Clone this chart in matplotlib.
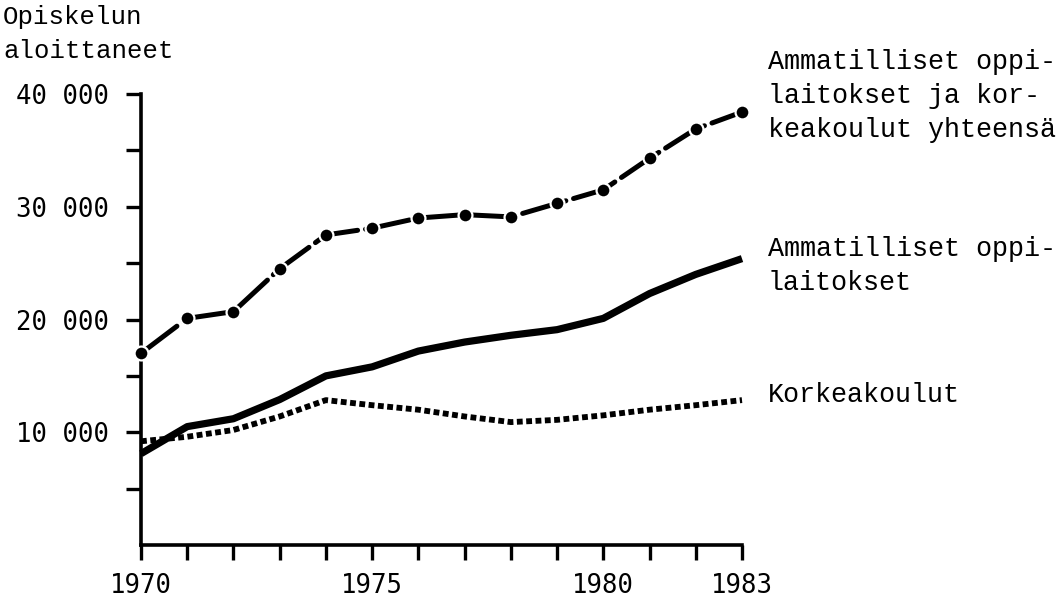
import matplotlib
matplotlib.use("Agg")
import matplotlib.pyplot as plt

years = [1970, 1971, 1972, 1973, 1974, 1975, 1976, 1977, 1978, 1979, 1980, 1981, 1982, 1983]
total = [17000, 20100, 20700, 24500, 27500, 28100, 29000, 29300, 29100, 30300, 31500, 34300, 36900, 38400]
vocational = [8100, 10500, 11200, 12900, 15000, 15800, 17200, 18000, 18600, 19100, 20100, 22300, 24000, 25400]
universities = [9200, 9600, 10200, 11400, 12850, 12400, 12000, 11400, 10900, 11100, 11500, 12000, 12400, 12850]

ytick_vals = [5000, 10000, 15000, 20000, 25000, 30000, 35000, 40000]
ytick_labels = ["", "10 000", "", "20 000", "", "30 000", "", "40 000"]
xtick_vals = years
xtick_labels = ["1970", "", "", "", "", "1975", "", "", "", "", "1980", "", "", "1983"]

ylabel_lines = ["Opiskelun", "aloittaneet"]
label_total = ["Ammatilliset oppi-", "laitokset ja kor-", "keakoulut yhteensä"]
label_voc = ["Ammatilliset oppi-", "laitokset"]
label_uni = ["Korkeakoulut"]

mono = ["Liberation Mono", "DejaVu Sans Mono"]
tickfont = ["DejaVu Sans Mono"]

W, H = 1063, 599
fig = plt.figure(figsize=(W / 100, H / 100), dpi=100)
ax = fig.add_axes([141 / W, 1 - 545 / H, (742 - 141) / W, (545 - 94) / H])

ax.plot(years, total, color="black", lw=3.6, linestyle=(0, (9, 1.6)), dash_capstyle="round",
        marker="o", ms=10, mfc="black", mec="white", mew=1.6, clip_on=False, zorder=3)
ax.plot(years, vocational, color="black", lw=5.2, solid_capstyle="butt",
        solid_joinstyle="round", clip_on=False, zorder=2)
ax.plot(years, universities, color="black", lw=4.2, linestyle=(0, (1, 0.6)),
        dash_capstyle="butt", clip_on=False, zorder=2)

ax.set_xlim(1970, 1983)
ax.set_ylim(0, 40000)
for s in ["top", "right"]:
    ax.spines[s].set_visible(False)
for s in ["left", "bottom"]:
    ax.spines[s].set_linewidth(2.6)

ax.set_yticks(ytick_vals)
ax.set_yticklabels(ytick_labels, fontfamily=tickfont, fontsize=18.5)
ax.set_xticks(xtick_vals)
ax.set_xticklabels(xtick_labels, fontfamily=tickfont, fontsize=18.5)
ax.tick_params(axis="y", direction="out", length=11, width=2.4, pad=12)
ax.tick_params(axis="x", direction="out", length=11, width=2.4, pad=9)

# y label (top-left)
for i, line in enumerate(ylabel_lines):
    fig.text(3 / W, 1 - (17 + 34 * i) / H, line, fontfamily=mono, fontsize=18.5,
             ha="left", va="center")

# right-hand series labels
def place(lines, ytop):
    for i, line in enumerate(lines):
        fig.text(768 / W, 1 - (ytop + 34 * i) / H, line, fontfamily=mono, fontsize=19.3,
                 ha="left", va="center")

place(label_total, 62)
place(label_voc, 249)
place(label_uni, 395)

fig.savefig("out.png", dpi=100, facecolor="white")
